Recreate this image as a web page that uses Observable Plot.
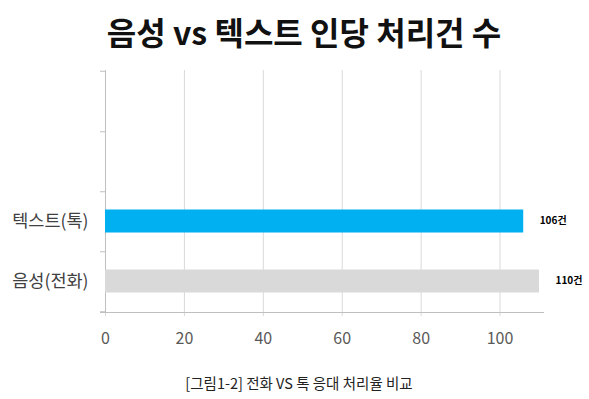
<!DOCTYPE html>
<html><head><meta charset="utf-8">
<script src="https://cdn.jsdelivr.net/npm/d3@7"></script>
<script src="https://cdn.jsdelivr.net/npm/@observablehq/plot@0.6"></script>
<style>
body{margin:0;background:#fff;width:589px;height:399px;overflow:hidden;font-family:"Noto Sans CJK KR","Noto Sans",sans-serif;}
#title{height:60px;line-height:62px;text-align:center;font-size:32px;font-weight:bold;color:#111;padding-left:19px;box-sizing:border-box;white-space:nowrap;}
#chart{height:300px;}
#chart svg{display:block;}
#cap{height:39px;padding-top:4px;line-height:38px;text-align:center;font-size:14.5px;color:#222;padding-left:9px;box-sizing:border-box;white-space:nowrap;}
</style></head>
<body>
<div id="title">음성 vs 텍스트 인당 처리건 수</div>
<div id="chart"></div>
<div id="cap">[그림1-2] 전화 VS 톡 응대 처리율 비교</div>
<script>
const categories = ["", " ", "텍스트(톡)", "음성(전화)"];
const values = [null, null, 106, 110];
const barColors = ["#ffffff", "#ffffff", "#00b0f0", "#d9d9d9"];
const xTicks = [0, 20, 40, 60, 80, 100];
const unit = "건";

const data = categories.map((c, i) => ({cat: c, value: values[i]})).filter(d => d.value != null);
const font = '"Noto Sans CJK KR","Noto Sans",sans-serif';

const chart = Plot.plot({
  width: 589, height: 300,
  marginTop: 10, marginBottom: 48, marginLeft: 105, marginRight: 50,
  x: {domain: [0, 110]},
  y: {domain: categories, padding: 0},
  color: {domain: categories, range: barColors},
  style: {fontFamily: font, fontSize: "16px", color: "#404040", background: "#fff"},
  marks: [
    Plot.gridX(xTicks, {stroke: "#d9d9d9", strokeOpacity: 1}),
    Plot.axisX({ticks: xTicks, tickSize: 4, tickPadding: 16, stroke: "#d9d9d9", fill: "#595959", fontSize: 16, label: null}),
    Plot.axisY({tickSize: 0, tickPadding: 17, fontSize: 17.5, fill: "#404040", label: null}),
    Plot.axisY({tickSize: 5, tickFormat: () => "", dy: 30.25, stroke: "#bfbfbf", label: null}),
    Plot.axisY({ticks: [categories[0]], tickSize: 5, tickFormat: () => "", dy: -30.25, stroke: "#bfbfbf", label: null}),
    Plot.frame({anchor: "left", stroke: "#bfbfbf"}),
    Plot.frame({anchor: "bottom", stroke: "#bfbfbf", insetLeft: -5, insetRight: -4}),
    Plot.barX(data, {x: "value", y: "cat", fill: "cat", insetTop: 18.5, insetBottom: 18.5}),
    Plot.text(data, {x: "value", y: "cat", text: d => d.value + unit, dx: 16, dy: -1, textAnchor: "start", fontWeight: "bold", fontSize: 10, fill: "#000"})
  ]
});
document.getElementById("chart").appendChild(chart);
</script>
</body></html>
